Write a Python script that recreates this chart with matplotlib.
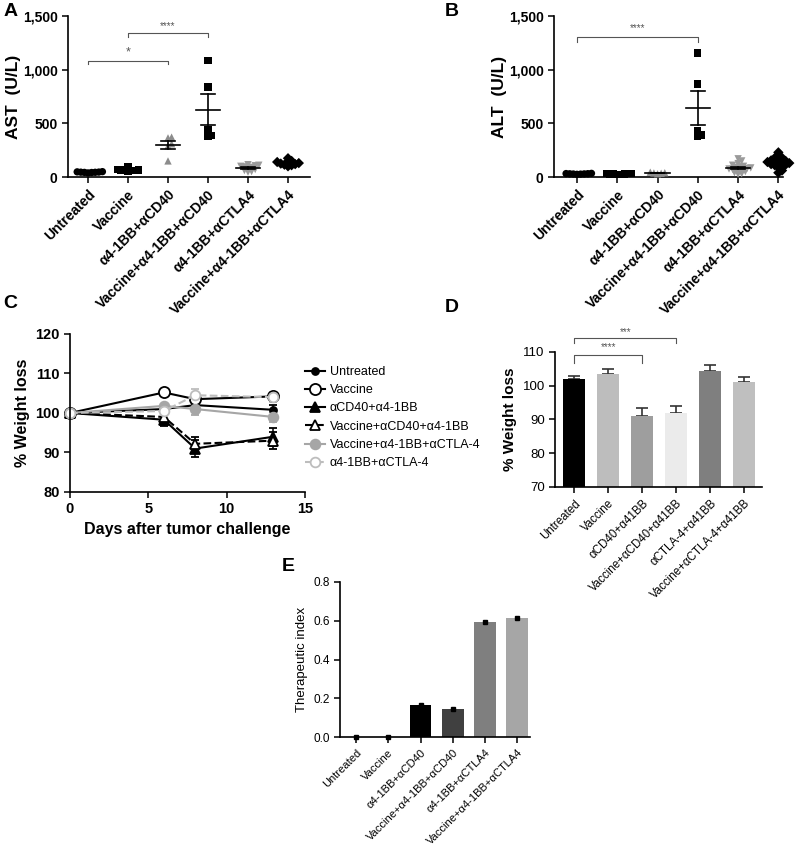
import numpy as np
import matplotlib
matplotlib.use('Agg')
import matplotlib.pyplot as plt
from matplotlib.ticker import FuncFormatter
from matplotlib.lines import Line2D

plt.rcParams['font.family'] = ['Liberation Sans', 'DejaVu Sans']
plt.rcParams['axes.linewidth'] = 1.2

# ---------------- datos A / B ----------------
grupos_ab = ['Untreated', 'Vaccine', 'α4-1BB+αCD40', 'Vaccine+α4-1BB+αCD40',
             'α4-1BB+αCTLA4', 'Vaccine+α4-1BB+αCTLA4']
marcadores_ab = ['o', 's', '^', 's', 'v', 'D']
colores_ab = ['black', 'black', '#8c8c8c', 'black', '#9a9a9a', 'black']

ast_untreated = [38, 42, 44, 45, 46, 48, 50, 43]
ast_vaccine = [92, 70, 65, 60, 58, 62, 55, 64]
ast_cd40 = [365, 372, 310, 290, 150]
ast_vac_cd40 = [1085, 838, 445, 383, 390]
ast_ctla4 = [115, 110, 105, 100, 95, 90, 80, 70, 60, 50, 45]
ast_vac_ctla4 = [175, 150, 140, 135, 130, 125, 120, 115, 110, 100]

alt_untreated = [25, 28, 30, 32, 34, 27, 29, 31]
alt_vaccine = [25, 27, 28, 30, 31, 29, 26, 32]
alt_cd40 = [30, 35, 38, 40, 45]
alt_vac_cd40 = [1155, 866, 428, 382, 392]
alt_ctla4 = [170, 150, 125, 110, 100, 95, 90, 85, 80, 75, 70, 65, 60, 50, 40, 30, 25]
alt_vac_ctla4 = [230, 195, 180, 165, 155, 150, 145, 140, 135, 130, 125, 120,
                 115, 110, 100, 90, 60, 40]

# ---------------- datos C ----------------
dias = [0, 6, 8, 13]
c_nombres = ['Untreated', 'Vaccine', 'αCD40+α4-1BB', 'Vaccine+αCD40+α4-1BB',
             'Vaccine+α4-1BB+αCTLA-4', 'α4-1BB+αCTLA-4']
c_untreated = [100, 101, 102, 100.8]
c_untreated_err = [0.3, 0.6, 0.6, 1.3]
c_vaccine = [100, 105.2, 103.5, 104.2]
c_vaccine_err = [0.3, 0.4, 0.8, 0.6]
c_cd40 = [100, 98.3, 91, 94]
c_cd40_err = [0.3, 1.5, 2.2, 2.3]
c_vac_cd40 = [100, 99, 92.2, 93]
c_vac_cd40_err = [0.3, 1.2, 1.8, 2.2]
c_vac_ctla4 = [100, 101.8, 101, 99]
c_vac_ctla4_err = [0.3, 0.6, 1.5, 1.2]
c_ctla4 = [100, 100.5, 104.5, 104]
c_ctla4_err = [0.3, 0.8, 1.5, 1.2]

# ---------------- datos D ----------------
d_grupos = ['Untreated', 'Vaccine', 'αCD40+α41BB', 'Vaccine+αCD40+α41BB',
            'αCTLA-4+α41BB', 'Vaccine+αCTLA-4+α41BB']
d_valores = [102, 103.5, 91, 92, 104.5, 101]
d_err = [0.8, 1.5, 2.5, 2.0, 1.5, 1.7]
d_colores = ['#000000', '#bdbdbd', '#9e9e9e', '#ebebeb', '#7f7f7f', '#bfbfbf']

# ---------------- datos E ----------------
e_grupos = grupos_ab
e_valores = [0.0, 0.0, 0.165, 0.145, 0.595, 0.612]
e_colores = ['#000000', '#000000', '#000000', '#404040', '#7f7f7f', '#a6a6a6']


def enjambre(valores, px_y, diam=3.6, paso=1.8):
    # desplazamientos horizontales (px) tipo beeswarm
    valores = np.asarray(valores, float)
    offs = np.zeros(len(valores))
    puestos = []
    for i in np.argsort(valores):
        y = valores[i] * px_y
        k = 0
        hecho = False
        while not hecho:
            cands = [0.0] if k == 0 else [k * paso, -k * paso]
            for c in cands:
                if all(np.hypot(c - ox, y - oy) >= diam - 1e-9 for ox, oy in puestos):
                    offs[i] = c
                    puestos.append((c, y))
                    hecho = True
                    break
            k += 1
    return offs


def estilo(ax):
    ax.spines['top'].set_visible(False)
    ax.spines['right'].set_visible(False)
    ax.tick_params(direction='out', length=4, width=1.1)


def corchete(ax, x0, x1, y, ypie, texto, ytxt, fs=7):
    ax.plot([x0, x0, x1, x1], [ypie, y, y, ypie], color='#555555', lw=0.8, clip_on=False)
    ax.text((x0 + x1) / 2, ytxt, texto, ha='center', va='center', fontsize=fs, color='#555555')


def panel_dispersion(ax, datos, ylabel):
    px_y = 161 / 1500
    for i, vals in enumerate(datos):
        vals = np.array(vals, float)
        dx = enjambre(vals, px_y) / 40
        ax.scatter(i + dx, vals, marker=marcadores_ab[i], s=28, c=colores_ab[i],
                   edgecolors='none', zorder=3, clip_on=False)
        m = vals.mean()
        se = vals.std(ddof=1) / np.sqrt(len(vals))
        ax.plot([i - 0.3, i + 0.3], [m, m], color='black', lw=1.2, zorder=4)
        ax.plot([i - 0.17, i + 0.17], [m + se] * 2, color='black', lw=1.2, zorder=4)
        ax.plot([i - 0.17, i + 0.17], [m - se] * 2, color='black', lw=1.2, zorder=4)
        ax.plot([i, i], [m - se, m + se], color='black', lw=1.2, zorder=4)
    ax.set_ylim(0, 1500)
    ax.set_yticks([0, 500, 1000, 1500])
    ax.yaxis.set_major_formatter(FuncFormatter(lambda v, p: f'{v:,.0f}'))
    ax.set_xticks(range(len(grupos_ab)))
    ax.set_xticklabels(grupos_ab, rotation=45, ha='right', rotation_mode='anchor',
                       fontsize=10, fontweight='bold')
    for t in ax.get_yticklabels():
        t.set_fontsize(10)
        t.set_fontweight('bold')
    ax.set_ylabel(ylabel, fontsize=12.5, fontweight='bold', labelpad=1)
    estilo(ax)


fig = plt.figure(figsize=(8, 8.49), dpi=100)

# ---- A ----
axA = fig.add_axes([0.085, 0.7915, 0.3025, 0.1895])
panel_dispersion(axA, [ast_untreated, ast_vaccine, ast_cd40, ast_vac_cd40, ast_ctla4, ast_vac_ctla4],
                 'AST  (U/L)')
axA.set_xlim(-0.5, 5.55)
corchete(axA, 0, 2, 1081, 1055, '*', 1160, fs=9)
corchete(axA, 1, 3, 1342, 1304, '****', 1410)

# ---- B ----
axB = fig.add_axes([0.6925, 0.7915, 0.2865, 0.1895])
panel_dispersion(axB, [alt_untreated, alt_vaccine, alt_cd40, alt_vac_cd40, alt_ctla4, alt_vac_ctla4],
                 'ALT  (U/L)')
axB.set_xlim(-0.57, 5.12)
corchete(axB, 0, 3, 1305, 1258, '****', 1390)

# ---- C ----
axC = fig.add_axes([0.0875, 0.4205, 0.2935, 0.1861])
series_c = [
    (c_untreated, c_untreated_err, 'o', 'black', 'black', '-', 5),
    (c_vaccine, c_vaccine_err, 'o', 'black', 'white', '-', 8),
    (c_cd40, c_cd40_err, '^', 'black', 'black', '-', 7),
    (c_vac_cd40, c_vac_cd40_err, '^', 'black', 'white', '--', 7),
    (c_vac_ctla4, c_vac_ctla4_err, 'o', '#a6a6a6', '#a6a6a6', '-', 7),
    (c_ctla4, c_ctla4_err, 'o', '#bdbdbd', 'white', '--', 7),
]
manijas = []
for (vals, err, mk, col, fc, ls, ms), nombre in zip(series_c, c_nombres):
    axC.errorbar(dias, vals, yerr=err, marker=mk, color=col, mfc=fc, mec=col, mew=1.3,
                 ms=ms, ls=ls, lw=1.5, capsize=3, elinewidth=1.1, clip_on=False)
    manijas.append(Line2D([], [], marker=mk, color=col, mfc=fc, mec=col, mew=1.3,
                          ms=ms, ls=ls, lw=1.5, label=nombre))
axC.set_xlim(0, 15)
axC.set_ylim(80, 120)
axC.set_xticks([0, 5, 10, 15])
axC.set_yticks([80, 90, 100, 110, 120])
for t in axC.get_xticklabels() + axC.get_yticklabels():
    t.set_fontsize(10.5)
    t.set_fontweight('bold')
axC.set_ylabel('% Weight loss', fontsize=11.5, fontweight='bold')
axC.set_xlabel('Days after tumor challenge', fontsize=11.5, fontweight='bold')
estilo(axC)
fig.legend(handles=manijas, loc='upper left', bbox_to_anchor=(0.381, 0.569), frameon=False,
           fontsize=9, handlelength=1.6, handletextpad=0.4, borderpad=0, borderaxespad=0,
           labelspacing=0.5)

# ---- D ----
axD = fig.add_axes([0.694, 0.4264, 0.2585, 0.159])
xd = np.arange(len(d_grupos))
axD.bar(xd, d_valores, width=0.65, color=d_colores, zorder=2)
axD.errorbar(xd, d_valores, yerr=[np.zeros(len(d_err)), d_err], fmt='none', ecolor='#333333',
             elinewidth=1.2, capsize=4, capthick=1.2, zorder=1)
axD.set_xlim(-0.56, 5.53)
axD.set_ylim(70, 110)
axD.set_yticks([70, 80, 90, 100, 110])
axD.set_xticks(xd)
axD.set_xticklabels(d_grupos, rotation=45, ha='right', rotation_mode='anchor', fontsize=8.3)
axD.tick_params(axis='y', labelsize=9.5)
axD.set_ylabel('% Weight loss', fontsize=11, fontweight='bold')
estilo(axD)
corchete(axD, 0, 2, 109.1, 106.7, '****', 111.6)
corchete(axD, 0, 3, 114.1, 112.6, '***', 115.9)

# ---- E ----
axE = fig.add_axes([0.425, 0.1319, 0.2375, 0.1826])
xe = np.arange(len(e_grupos))
axE.bar(xe, e_valores, width=0.68, color=e_colores, zorder=2)
axE.errorbar(xe, e_valores, yerr=0.003, fmt='s', ms=3, color='black', capsize=0, zorder=3,
             clip_on=False)
axE.set_xlim(-0.5, 5.4)
axE.set_ylim(0, 0.8)
axE.set_yticks([0, 0.2, 0.4, 0.6, 0.8])
axE.yaxis.set_major_formatter(FuncFormatter(lambda v, p: f'{v:.1f}'))
axE.set_xticks(xe)
axE.set_xticklabels(e_grupos, rotation=45, ha='right', rotation_mode='anchor', fontsize=8)
axE.tick_params(axis='y', labelsize=8.5)
axE.set_ylabel('Therapeutic index', fontsize=9.5)
estilo(axE)

# letras de panel
for letra, x, y in [('A', 0.004, 0.997), ('B', 0.556, 0.997), ('C', 0.004, 0.652),
                    ('D', 0.556, 0.648), ('E', 0.352, 0.343)]:
    fig.text(x, y, letra, fontsize=14, fontweight='bold', va='top', ha='left')

fig.savefig('out.png', dpi=100)
